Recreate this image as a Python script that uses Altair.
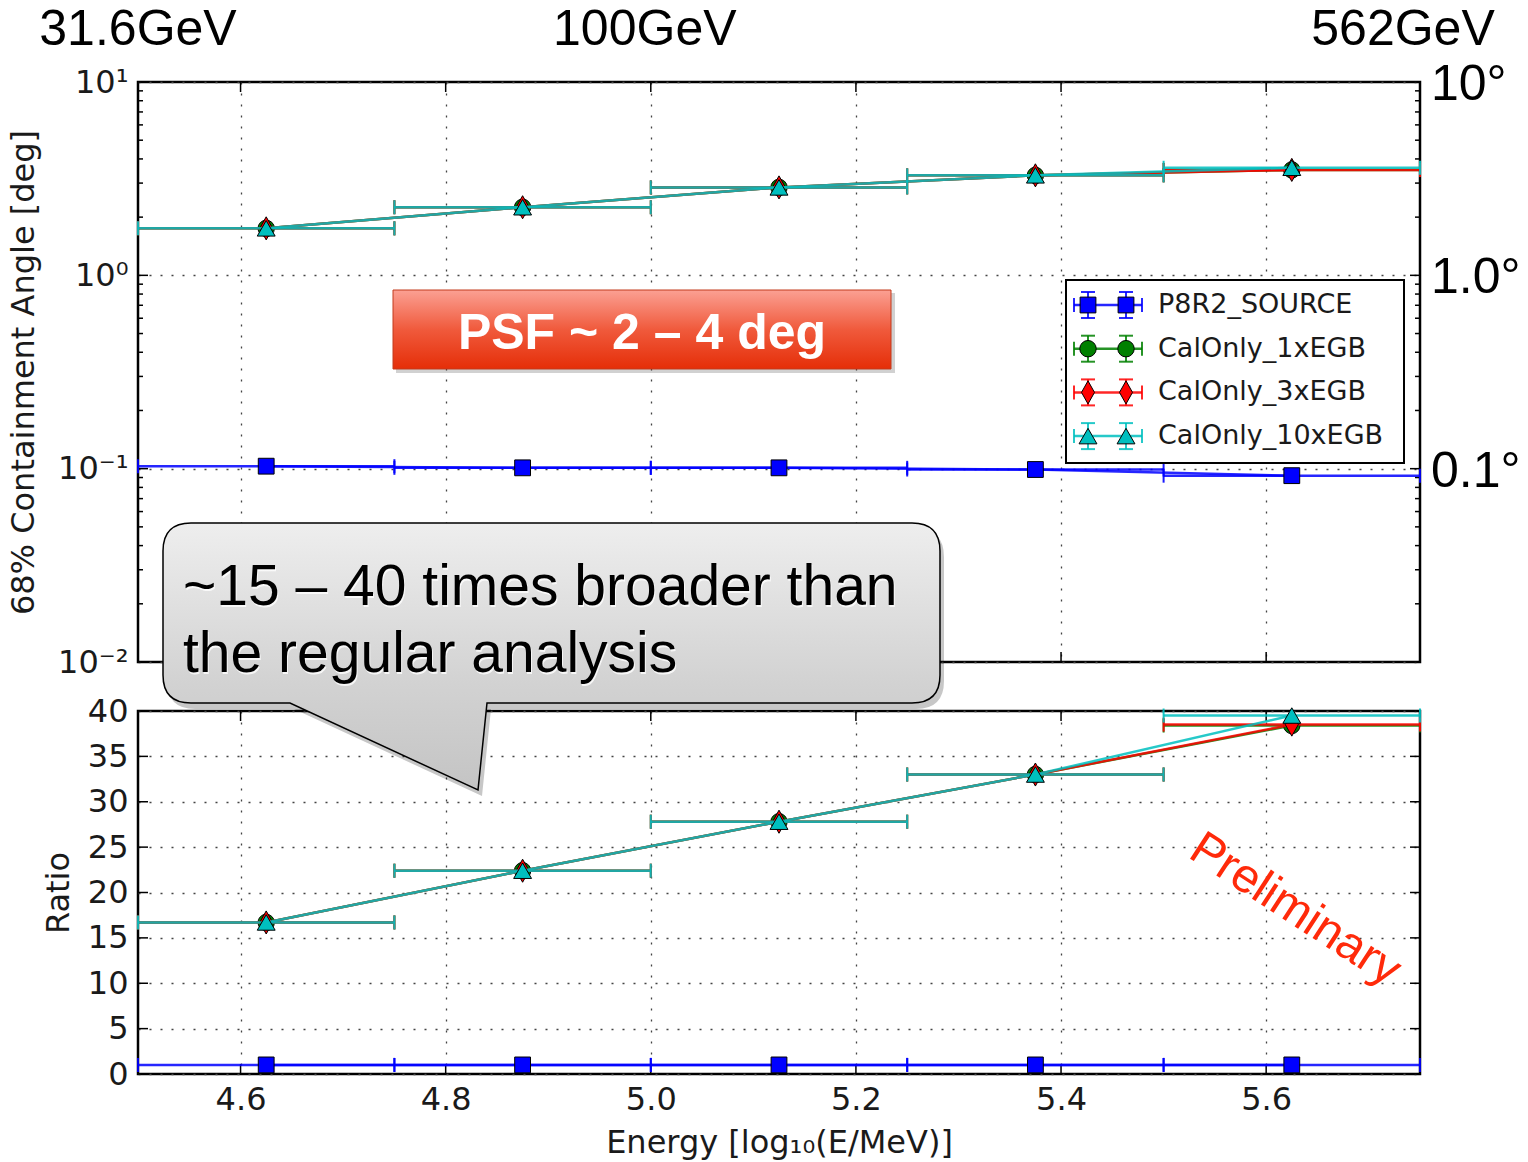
import altair as alt
import pandas as pd

# ---- data ---------------------------------------------------------------
# energy bins in log10(E/MeV): bin centres and half-width
bin_centres = [4.625, 4.875, 5.125, 5.375, 5.625]
bin_half_width = 0.125

series_names = ["P8R2_SOURCE", "CalOnly_1xEGB", "CalOnly_3xEGB", "CalOnly_10xEGB"]

# 68% containment angle [deg]
psf_source = [0.103, 0.101, 0.101, 0.099, 0.092]
psf_egb1 = [1.75, 2.25, 2.85, 3.29, 3.51]
psf_egb3 = [1.75, 2.25, 2.85, 3.29, 3.51]
psf_egb10 = [1.75, 2.25, 2.85, 3.29, 3.60]

# containment angle relative to P8R2_SOURCE
ratio_source = [1.0, 1.0, 1.0, 1.0, 1.0]
ratio_egb1 = [16.7, 22.4, 27.8, 33.0, 38.4]
ratio_egb3 = [16.7, 22.4, 27.8, 33.0, 38.5]
ratio_egb10 = [16.7, 22.4, 27.8, 33.0, 39.5]

# axis ticks
x_ticks = [4.6, 4.8, 5.0, 5.2, 5.4, 5.6]
psf_ticks = [0.01, 0.1, 1.0, 10.0]
psf_minor_ticks = [m * d for d in (0.01, 0.1, 1.0) for m in range(2, 10)]
ratio_ticks = [0, 5, 10, 15, 20, 25, 30, 35, 40]

# energy markers above the plot and degree markers on the right
energy_marks = [4.5, 5.0, 5.75]
energy_labels = ["31.6GeV", "100GeV", "562GeV"]
energy_label_shift = [0, -6, -17]
degree_marks = [10.0, 1.0, 0.1]
degree_labels = ["10°", "1.0°", "0.1°"]

# ---- styles -------------------------------------------------------------
COLORS = ["#0000ff", "#008000", "#ff0000", "#00bfbf"]
THIN_DIAMOND = "M0,-1.1L0.62,0L0,1.1L-0.62,0Z"
SHAPES = ["square", "circle", THIN_DIAMOND, "triangle-up"]
SIZES = [250, 270, 440, 320]

W, H_TOP, H_BOT, GAP = 1282, 580, 363, 49
TXT = "#1a1a1a"
SLIDE_FONT = "Liberation Sans"

x_scale = alt.Scale(domain=[4.5, 5.75], nice=False, zero=False)
psf_scale = alt.Scale(type="log", domain=[0.01, 10], nice=False)
ratio_scale = alt.Scale(domain=[0, 40], nice=False, zero=False)

one_row = pd.DataFrame({"k": [0]})


class Panel:
    """Shared scales and axes for every layer of one panel."""

    def __init__(self, y_scale, x_axis, y_axis, height):
        self.y_scale = y_scale
        self.x_axis = x_axis
        self.y_axis = y_axis
        self.height = height

    def x(self, field):
        return alt.X(f"{field}:Q", scale=x_scale, axis=self.x_axis)

    def y(self, field):
        return alt.Y(f"{field}:Q", scale=self.y_scale, axis=self.y_axis)

    def series(self, values, idx):
        """Horizontal bin bars with caps, connecting line and markers."""
        df = pd.DataFrame({
            "centre": bin_centres,
            "lo": [c - bin_half_width for c in bin_centres],
            "hi": [c + bin_half_width for c in bin_centres],
            "value": values,
        })
        color = COLORS[idx]
        base = alt.Chart(df)
        bars = base.mark_rule(color=color, strokeWidth=2.5, opacity=0.85).encode(
            x=self.x("lo"), x2="hi:Q", y=self.y("value"))
        caps = [
            base.mark_tick(orient="vertical", color=color, size=14, thickness=2,
                           opacity=0.9).encode(x=self.x(f), y=self.y("value"))
            for f in ("lo", "hi")
        ]
        line = base.mark_line(color=color, strokeWidth=2.5, opacity=0.85).encode(
            x=self.x("centre"), y=self.y("value"))
        pts = base.mark_point(shape=SHAPES[idx], size=SIZES[idx], filled=True,
                              fill=color, stroke="black", strokeWidth=1,
                              opacity=1).encode(x=self.x("centre"), y=self.y("value"))
        return [bars, *caps, line, pts]

    def y_ticks(self, values, length):
        df = pd.DataFrame({"t": values})
        rule = alt.Chart(df).mark_rule(color="black", strokeWidth=1.5)
        return [rule.encode(x=alt.value(0), x2=alt.value(length), y=self.y("t")),
                rule.encode(x=alt.value(W - length), x2=alt.value(W), y=self.y("t"))]

    def x_ticks(self, values, length):
        df = pd.DataFrame({"t": values})
        rule = alt.Chart(df).mark_rule(color="black", strokeWidth=1.5)
        return [rule.encode(x=self.x("t"), y=alt.value(0), y2=alt.value(length)),
                rule.encode(x=self.x("t"), y=alt.value(self.height - length),
                            y2=alt.value(self.height))]


# ---- upper panel: containment angle -------------------------------------
top_panel = Panel(
    psf_scale,
    alt.Axis(values=x_ticks, labels=False, title=None, grid=True),
    alt.Axis(
        values=psf_ticks, grid=True, labelPadding=10, labelOverlap=False,
        labelExpr=("datum.value >= 9 ? '10\u00b9' : datum.value >= 0.9 ? '10\u2070'"
                   " : datum.value >= 0.09 ? '10\u207b\u00b9' : '10\u207b\u00b2'"),
        title="68% Containment Angle [deg]",
        titleX=-98, titleY=H_TOP / 2, titleAngle=270, titleBaseline="bottom",
        titleAlign="center"),
    H_TOP,
)

top_layers = []
top_layers += top_panel.y_ticks(psf_ticks, 10)
top_layers += top_panel.y_ticks(psf_minor_ticks, 5)
top_layers += top_panel.x_ticks(x_ticks, 10)
for i, vals in enumerate([psf_source, psf_egb1, psf_egb3, psf_egb10]):
    top_layers += top_panel.series(vals, i)

# legend box
LEG_X0, LEG_X1, LEG_Y0, LEG_Y1 = 928, 1266, 198, 381
LEG_ROW0, LEG_STEP = 223, 43.7
MK_A, MK_B, LN_A, LN_B, LEG_TEXT_X = 950, 988, 936, 1004, 1020
legend_df = pd.DataFrame({
    "name": series_names,
    "color": COLORS,
    "shape": SHAPES,
    "size": SIZES,
    "ly": [LEG_ROW0 + i * LEG_STEP for i in range(len(series_names))],
})
legend_df["ly_top"] = legend_df["ly"] - 13
legend_df["ly_bot"] = legend_df["ly"] + 13
legend_df["cap_top"] = legend_df["ly"] - 7
legend_df["cap_bot"] = legend_df["ly"] + 7


def pix_y(field):
    return alt.Y(f"{field}:Q", scale=None, axis=None)


lcol = alt.Color("color:N", scale=None, legend=None)
leg = alt.Chart(legend_df)
legend_layers = [
    alt.Chart(one_row).mark_rect(fill="white", stroke="black", strokeWidth=2).encode(
        x=alt.value(LEG_X0), x2=alt.value(LEG_X1),
        y=alt.value(LEG_Y0), y2=alt.value(LEG_Y1)),
    leg.mark_rule(strokeWidth=2.5, opacity=0.85).encode(
        x=alt.value(LN_A), x2=alt.value(LN_B), y=pix_y("ly"), color=lcol),
]
for xe in (LN_A, LN_B):
    legend_layers.append(leg.mark_rule(strokeWidth=2, opacity=0.85).encode(
        x=alt.value(xe), y=pix_y("cap_top"), y2="cap_bot:Q", color=lcol))
for xm in (MK_A, MK_B):
    legend_layers.append(leg.mark_rule(strokeWidth=2, opacity=0.85).encode(
        x=alt.value(xm), y=pix_y("ly_top"), y2="ly_bot:Q", color=lcol))
    for cy in ("ly_top", "ly_bot"):
        legend_layers.append(leg.mark_rule(strokeWidth=2, opacity=0.85).encode(
            x=alt.value(xm - 7), x2=alt.value(xm + 7), y=pix_y(cy), color=lcol))
    legend_layers.append(leg.mark_point(filled=True, stroke="black", strokeWidth=1,
                                        opacity=1).encode(
        x=alt.value(xm), y=pix_y("ly"),
        shape=alt.Shape("shape:N", scale=None, legend=None),
        fill=alt.Fill("color:N", scale=None, legend=None),
        size=alt.Size("size:Q", scale=None, legend=None)))
legend_layers.append(leg.mark_text(align="left", baseline="middle", font="DejaVu Sans",
                                   fontSize=27, color=TXT).encode(
    x=alt.value(LEG_TEXT_X), y=pix_y("ly"), text="name:N"))
top_layers += legend_layers

# "PSF ~ 2 - 4 deg" banner
psf_gradient = alt.LinearGradient(
    gradient="linear", x1=0, x2=0, y1=0, y2=1,
    stops=[alt.GradientStop(color="#fba093", offset=0),
           alt.GradientStop(color="#f05a3c", offset=0.5),
           alt.GradientStop(color="#e52e08", offset=1)])
top_layers += [
    alt.Chart(one_row).mark_rect(fill="#000000", opacity=0.18).encode(
        x=alt.value(258), x2=alt.value(757), y=alt.value(211), y2=alt.value(291)),
    alt.Chart(one_row).mark_rect(fill=psf_gradient, stroke="#c23a1c", strokeWidth=1).encode(
        x=alt.value(255), x2=alt.value(753), y=alt.value(208), y2=alt.value(287)),
    alt.Chart(one_row).mark_text(text="PSF ~ 2 \u2013 4 deg", font=SLIDE_FONT, fontSize=50,
                                 fontWeight="bold", color="white", align="center",
                                 baseline="alphabetic").encode(
        x=alt.value(504), y=alt.value(267)),
]

# energy labels above, degree labels on the right
for e, label, shift in zip(energy_marks, energy_labels, energy_label_shift):
    top_layers.append(
        alt.Chart(pd.DataFrame({"e": [e], "label": [label]})).mark_text(
            font=SLIDE_FONT, fontSize=50, align="center", baseline="alphabetic",
            dx=shift, color="black").encode(
            x=top_panel.x("e"), y=alt.value(-37), text="label:N"))
top_layers.append(
    alt.Chart(pd.DataFrame({"d": degree_marks, "label": degree_labels})).mark_text(
        font=SLIDE_FONT, fontSize=50, align="left", baseline="middle", dy=3,
        color="black").encode(
        x=alt.value(W + 11), y=top_panel.y("d"), text="label:N"))

top = alt.layer(*top_layers).properties(width=W, height=H_TOP)

# ---- lower panel: ratio -------------------------------------------------
bot_panel = Panel(
    ratio_scale,
    alt.Axis(values=x_ticks, format=".1f", grid=True, labelPadding=10,
             labelOverlap=False, title="Energy [log\u2081\u2080(E/MeV)]",
             titleX=W / 2, titleY=78, titleBaseline="alphabetic", titleAlign="center"),
    alt.Axis(values=ratio_ticks, grid=True, labelPadding=10, labelOverlap=False,
             title="Ratio", titleX=-63, titleY=H_BOT / 2, titleAngle=270,
             titleBaseline="bottom", titleAlign="center"),
    H_BOT,
)

bot_layers = []
bot_layers += bot_panel.y_ticks(ratio_ticks, 10)
bot_layers += bot_panel.x_ticks(x_ticks, 10)
for i, vals in enumerate([ratio_source, ratio_egb1, ratio_egb3, ratio_egb10]):
    bot_layers += bot_panel.series(vals, i)

# speech bubble reaching up into the upper panel
BUBBLE = ("M53,-188H774Q802,-188 802,-160V-36Q802,-8 774,-8H349L340,79L152,-8"
          "H53Q25,-8 25,-36V-160Q25,-188 53,-188Z")
bubble_gradient = alt.LinearGradient(
    gradient="linear", x1=0, x2=0, y1=0, y2=1,
    stops=[alt.GradientStop(color="#eeeeee", offset=0),
           alt.GradientStop(color="#d2d2d2", offset=0.6),
           alt.GradientStop(color="#c4c4c4", offset=1)])
bot_layers += [
    alt.Chart(one_row).mark_point(shape=BUBBLE, size=4, filled=True, fill="#000000",
                                  opacity=0.22, strokeWidth=0).encode(
        x=alt.value(4), y=alt.value(6)),
    alt.Chart(one_row).mark_point(shape=BUBBLE, size=4, filled=True, fill=bubble_gradient,
                                  stroke="black", strokeWidth=1.5, opacity=1).encode(
        x=alt.value(0), y=alt.value(0)),
]
for txt, yb in (("~15 \u2013 40 times broader than", -106), ("the regular analysis", -39)):
    bot_layers.append(alt.Chart(one_row).mark_text(
        text=txt, font=SLIDE_FONT, fontSize=57, color="white", align="left",
        baseline="alphabetic", opacity=0.8).encode(x=alt.value(46), y=alt.value(yb + 2)))
    bot_layers.append(alt.Chart(one_row).mark_text(
        text=txt, font=SLIDE_FONT, fontSize=57, color="black", align="left",
        baseline="alphabetic").encode(x=alt.value(45), y=alt.value(yb)))

bot_layers.append(alt.Chart(one_row).mark_text(
    text="Preliminary", font=SLIDE_FONT, fontSize=48, color="#ff2a0a", angle=33,
    align="center", baseline="middle").encode(x=alt.value(1157), y=alt.value(199)))

bottom = alt.layer(*bot_layers).properties(width=W, height=H_BOT)

chart = (
    alt.vconcat(top, bottom, spacing=GAP, bounds="flush")
    .properties(padding={"left": 5, "top": 3, "right": 0, "bottom": 0},
                background="white")
    .configure_view(stroke="black", strokeWidth=2.5)
    .configure_axis(
        domain=False, ticks=False,
        gridColor="#444444", gridDash=[2, 9], gridWidth=1.3,
        labelFont="DejaVu Sans", labelFontSize=32, labelColor=TXT,
        titleFont="DejaVu Sans", titleFontSize=32, titleColor=TXT,
        titleFontWeight="normal")
)

chart.save("out.html", embed_options={"renderer": "svg", "actions": False})
